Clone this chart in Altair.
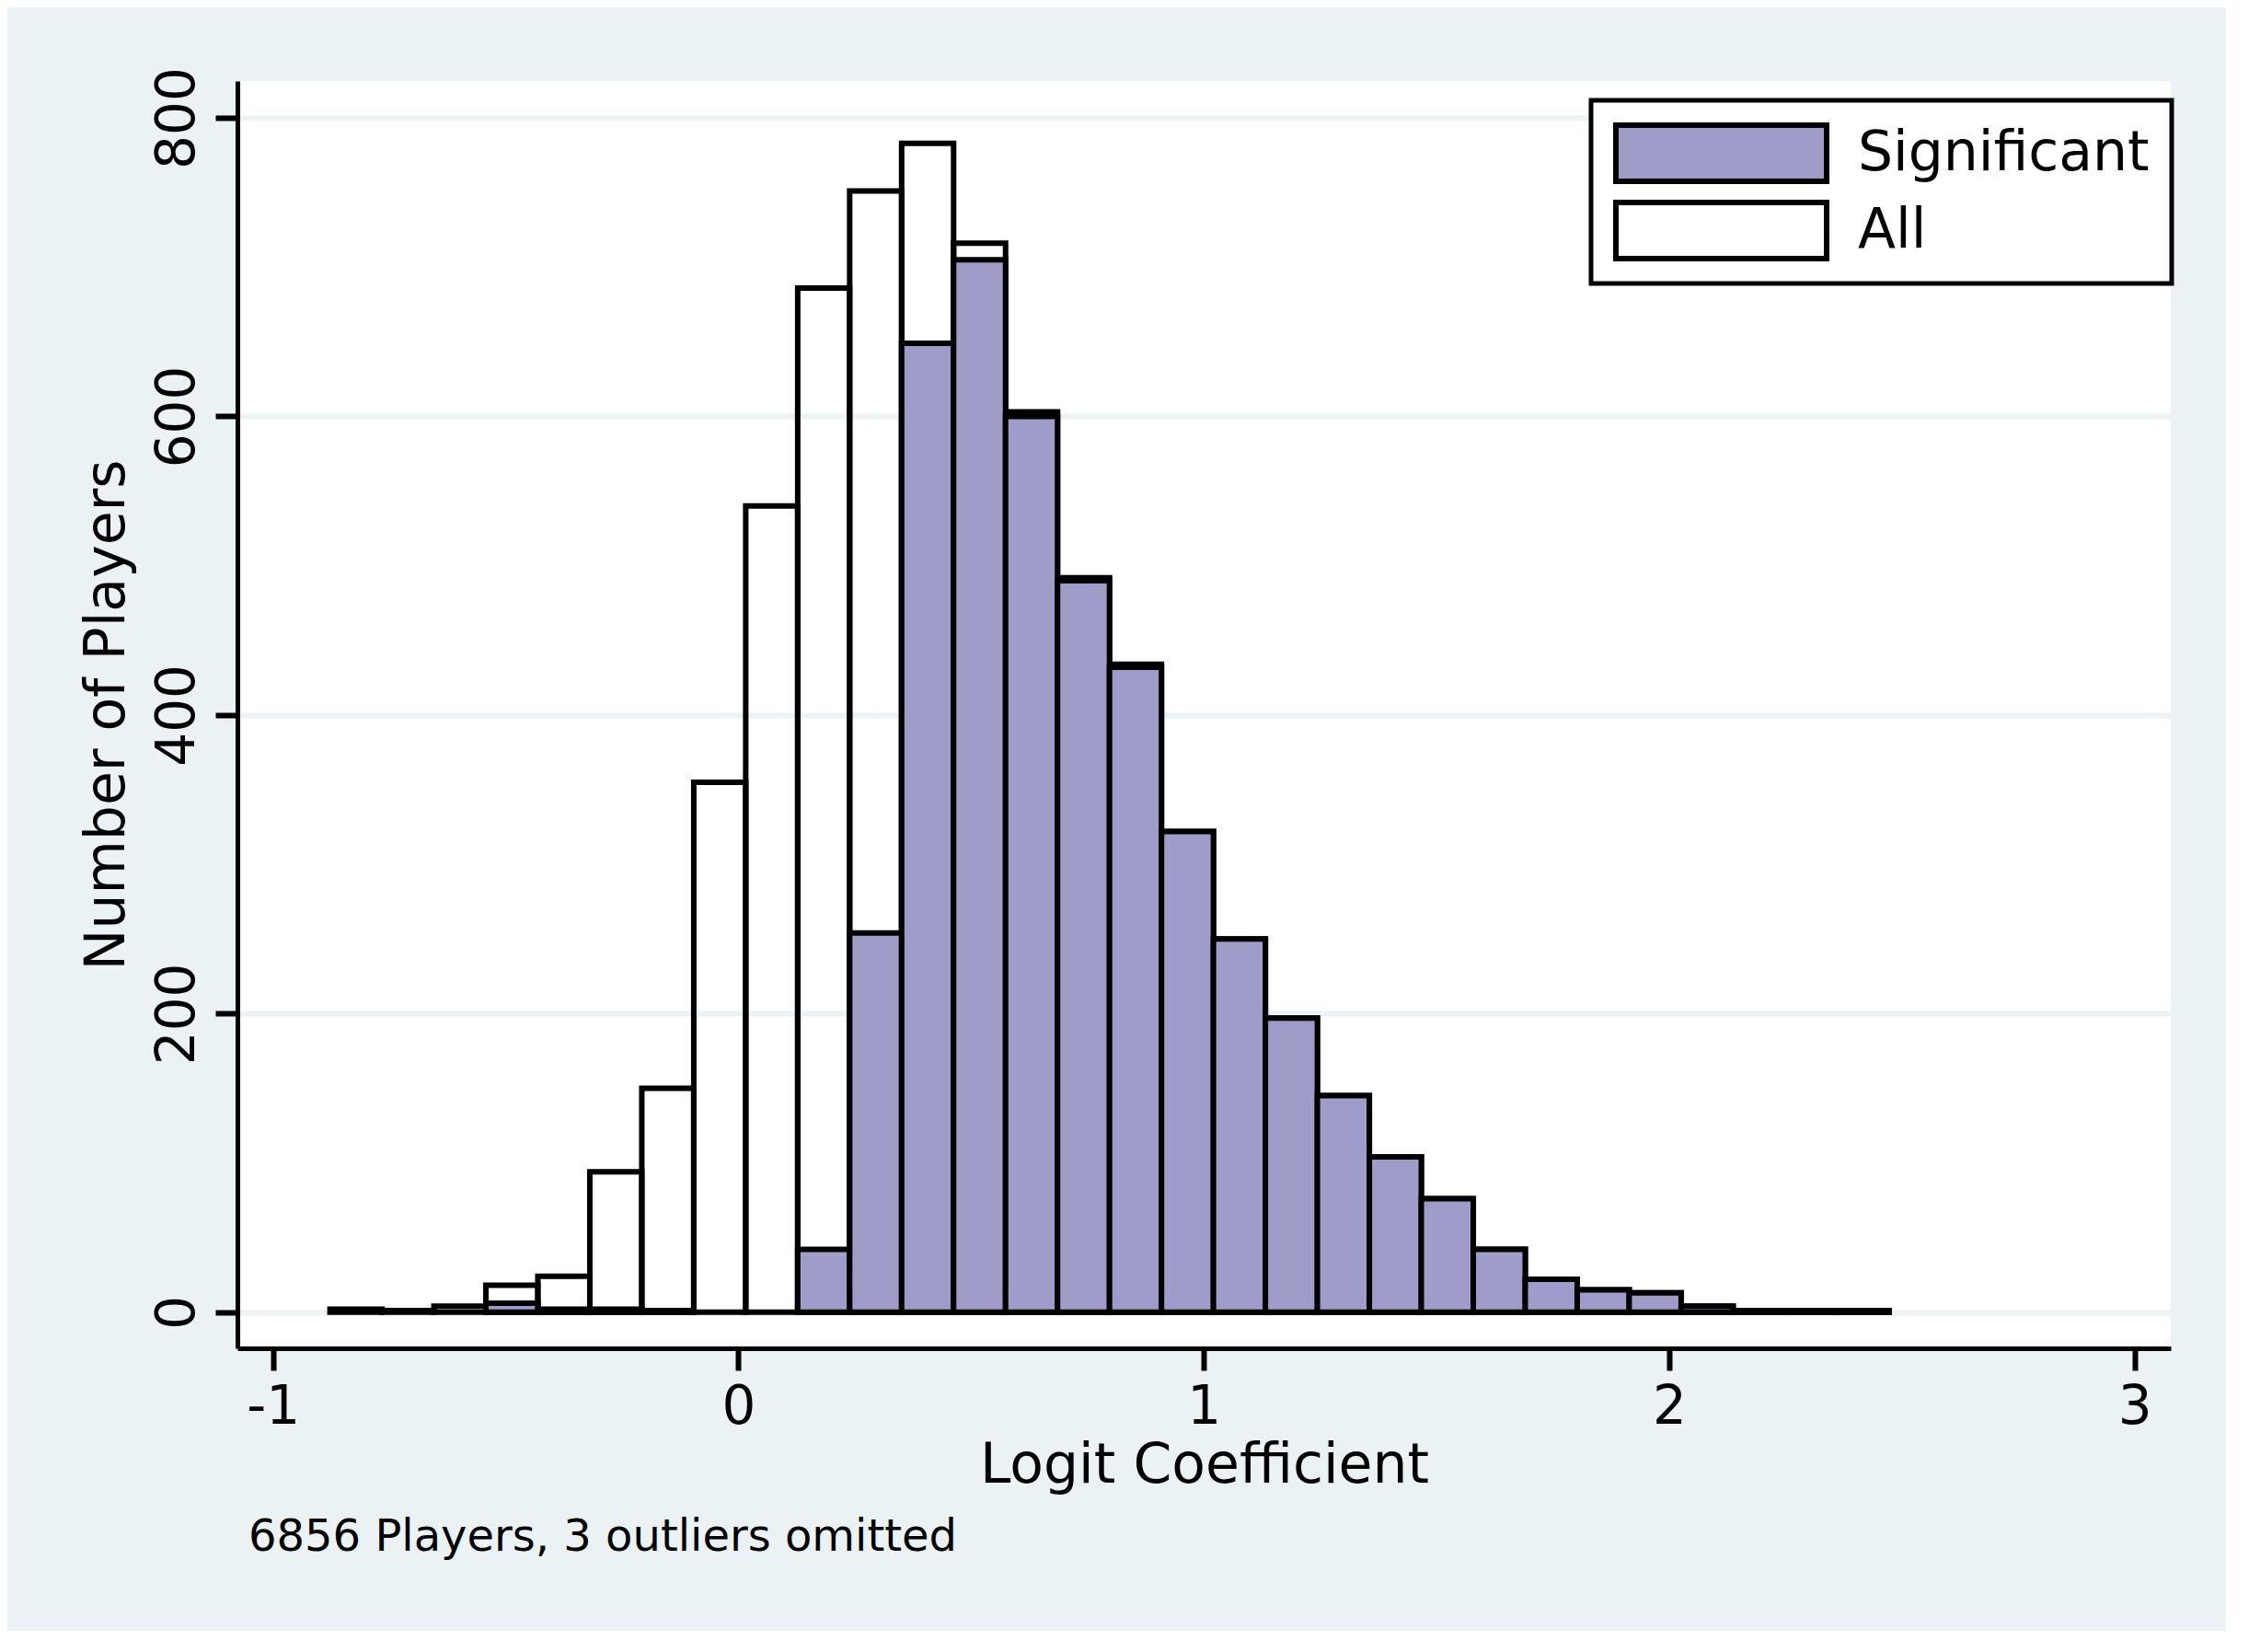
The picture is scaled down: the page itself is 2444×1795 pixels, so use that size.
import altair as alt
import pandas as pd

# ---- data ----
bin_start = -0.8775
bin_width = 0.11166
all_counts = [2, 1, 4, 18, 24, 94, 150, 355, 540, 686, 751, 783, 716, 603, 492,
              434, 322, 250, 197, 145, 104, 76, 42, 22, 15, 13, 4, 1, 1, 1]
sig_counts = [0, 0, 0, 6, 2, 2, 1, 0, 0, 42, 254, 649, 705, 600, 490,
              432, 322, 250, 197, 145, 104, 76, 42, 22, 15, 13, 4, 1, 1, 1]
series_names = ["Significant", "All"]
x_ticks = [-1, 0, 1, 2, 3]
y_ticks = [0, 200, 400, 600, 800]
x_title = "Logit Coefficient"
y_title = "Number of Players"
caption = "6856 Players, 3 outliers omitted"

PURPLE = "#9f9cca"
BG = "#eaf2f3"
FONT = "DejaVu Sans"

rows = []
for i, (a, s) in enumerate(zip(all_counts, sig_counts)):
    lo = bin_start + i * bin_width
    hi = lo + bin_width
    rows.append({"lo": lo, "hi": hi, "n": a, "series": "All", "base": 0})
    if s > 0:
        rows.append({"lo": lo, "hi": hi, "n": s, "series": "Significant", "base": 0})
df = pd.DataFrame(rows)

fill = alt.Fill(
    "series:N",
    scale=alt.Scale(domain=series_names, range=[PURPLE, "rgba(255,255,255,0)"]),
    legend=alt.Legend(
        title=None, orient="none", legendX=1471, legendY=21, direction="vertical",
        symbolType="M-3.754,-1L3.754,-1L3.754,1L-3.754,1Z", symbolSize=3721,
        symbolStrokeWidth=6, symbolStrokeColor="black", symbolOffset=84,
        labelOffset=115, labelFont=FONT, labelFontSize=60, labelColor="black",
        labelLimit=0, padding=24, rowPadding=17, clipHeight=67, fillColor="white",
        strokeColor="black",
    ),
)

x_enc = alt.X(
    "lo:Q",
    scale=alt.Scale(domain=[-1.0764, 3.0777], nice=False, zero=False),
    axis=alt.Axis(
        values=x_ticks, labelExpr="toString(datum.value)", grid=False,
        tickSize=24, tickWidth=6, tickColor="black", domainColor="black", domainWidth=5,
        labelFont=FONT, labelFontSize=58, labelColor="black", labelPadding=11,
        labelFlush=False, labelOverlap=False, labelBaseline="top",
        title=x_title, titleFont=FONT, titleFontSize=60, titleFontWeight="normal",
        titleColor="black", titleX=1050.5, titleY=145, titleAlign="center",
        titleBaseline="alphabetic",
    ),
)
y_enc = alt.Y(
    "n:Q",
    scale=alt.Scale(domain=[-24.2, 824.7], nice=False, zero=False),
    axis=alt.Axis(
        values=y_ticks, grid=True, gridColor=BG, gridWidth=6,
        tickSize=24, tickWidth=6, tickColor="black", domainColor="black", domainWidth=5,
        labelFont=FONT, labelFontSize=58, labelColor="black", labelPadding=24,
        labelAngle=270, labelAlign="center", labelBaseline="alphabetic",
        labelFlush=False, labelOverlap=False,
        title=y_title, titleFont=FONT, titleFontSize=60, titleFontWeight="normal",
        titleColor="black", titleAngle=270, titleX=-124, titleY=688.5,
        titleAlign="center", titleBaseline="alphabetic",
    ),
)

base = alt.Chart(df).mark_rect(stroke="black", strokeWidth=6).encode(
    x=x_enc, x2="hi:Q", y=y_enc, y2="base:Q", fill=fill
)
all_layer = base.transform_filter(alt.datum.series == "All")
sig_layer = base.transform_filter(alt.datum.series == "Significant")

chart = (
    alt.layer(all_layer, sig_layer)
    .properties(
        width=2101, height=1377,
        autosize=alt.AutoSizeParams(type="none"),
        padding={"left": 250, "top": 80, "right": 60, "bottom": 307},
        background=BG,
        title=alt.TitleParams(
            caption, orient="bottom", anchor="start", frame="group",
            font=FONT, fontSize=48, fontWeight="normal", color="black",
            offset=25, dx=12,
        ),
    )
    .configure_view(stroke=None, fill="white")
    .configure_legend(strokeWidth=5)
)

chart.save("out.html", embed_options={"renderer": "svg", "actions": False})
